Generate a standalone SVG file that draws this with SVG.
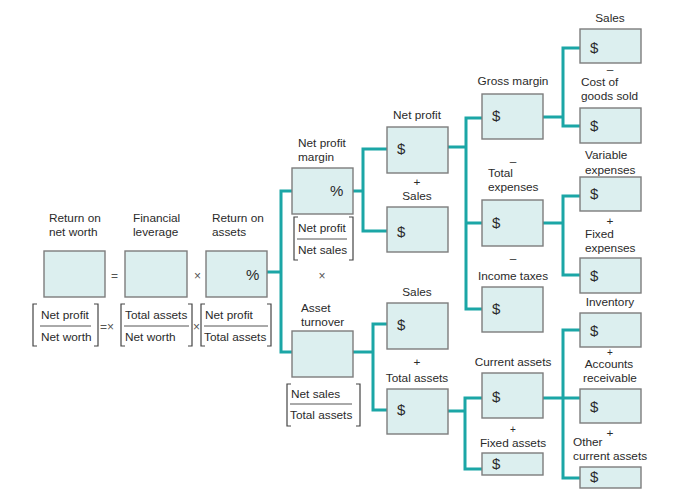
<svg xmlns="http://www.w3.org/2000/svg" width="700" height="495" viewBox="0 0 700 495">
<style>
text{font-family:"Liberation Sans",Arial,sans-serif;font-size:11.8px;fill:#2a2a2a}
.c{text-anchor:middle}
.big{font-size:15px}
.op{font-size:12px;fill:#555}
.pl{font-size:10px}
.box{fill:#dcefef;stroke:#7d7d7d;stroke-width:1.4}
.br{fill:none;stroke:#444;stroke-width:1.2}
.fl{stroke:#555;stroke-width:1}
.con{fill:none;stroke:#1ba6a6;stroke-width:3}
</style>
<rect width="700" height="495" fill="#fff"/>
<g id="connectors" class="con">
<path d="M267,272H281M292,191H281V352H292"/>
<path d="M353,191H363M387,149H363V231H387"/>
<path d="M353,352H373M387,324H373V410H387"/>
<path d="M448,147H466M482,118H466V309H482M466,223H482"/>
<path d="M448,411H465M482,398H465V469H482"/>
<path d="M543,117H563M580,48H563V126H580"/>
<path d="M543,223H563M580,196H563V275H580"/>
<path d="M543,398H580M580,330H563V478H580"/>
</g>
<g id="return-on-net-worth">
<text x="49" y="222">Return on</text><text x="49" y="236">net worth</text>
<rect class="box" x="44" y="251" width="61" height="46"/>
</g>
<text class="op" x="111" y="280">=</text>
<g id="financial-leverage">
<text x="133" y="222">Financial</text><text x="133" y="236">leverage</text>
<rect class="box" x="125" y="251" width="62" height="46"/>
</g>
<text class="op" x="194" y="280">×</text>
<g id="return-on-assets">
<text x="212" y="222">Return on</text><text x="212" y="236">assets</text>
<rect class="box" x="206" y="251" width="61" height="46"/>
<text class="big" x="246" y="280">%</text>
</g>
<g id="formula">
<path class="br" d="M37,304H33V346H37M94,304H98V346H94"/>
<text x="41" y="319">Net profit</text><line class="fl" x1="40" y1="326" x2="91" y2="326"/><text x="41" y="341">Net worth</text>
<text class="op" x="100" y="331">=×</text>
<path class="br" d="M125,304H121V346H125M188,304H192V346H188"/>
<text x="125" y="319">Total assets</text><line class="fl" x1="124" y1="326" x2="189" y2="326"/><text x="125" y="341">Net worth</text>
<text class="op" x="193" y="331">×</text>
<path class="br" d="M205,304H201V346H205M267,304H271V346H267"/>
<text x="205" y="319">Net profit</text><line class="fl" x1="204" y1="326" x2="268" y2="326"/><text x="204" y="341">Total assets</text>
</g>
<g id="net-profit-margin">
<text x="298" y="147">Net profit</text><text x="298" y="161">margin</text>
<rect class="box" x="292" y="168" width="61" height="46"/>
<text class="big" x="330" y="196">%</text>
<path class="br" d="M298,217H294V260H298M349,217H353V260H349"/>
<text x="298" y="232">Net profit</text><line class="fl" x1="297" y1="239" x2="347" y2="239"/><text x="298" y="254">Net sales</text>
</g>
<text class="op c" x="322" y="280">×</text>
<g id="asset-turnover">
<text x="301" y="312">Asset</text><text x="301" y="326">turnover</text>
<rect class="box" x="292" y="331" width="61" height="46"/>
<path class="br" d="M291,384H287V426H291M356,384H360V426H356"/>
<text x="291" y="398">Net sales</text><line class="fl" x1="290" y1="404" x2="352" y2="404"/><text x="290" y="419">Total assets</text>
</g>
<g id="net-profit">
<text class="c" x="417" y="119">Net profit</text>
<rect class="box" x="387" y="127" width="61" height="46"/>
<text class="big" x="397" y="154">$</text>
</g>
<g id="sales-1">
<text class="c" x="417" y="186">+</text><text class="c" x="417" y="200">Sales</text>
<rect class="box" x="387" y="207" width="61" height="45"/>
<text class="big" x="397" y="237">$</text>
</g>
<g id="sales-2">
<text class="c" x="417" y="296">Sales</text>
<rect class="box" x="387" y="303" width="61" height="46"/>
<text class="big" x="397" y="330">$</text>
</g>
<g id="total-assets">
<text class="c" x="417" y="366">+</text><text class="c" x="417" y="382">Total assets</text>
<rect class="box" x="387" y="389" width="61" height="45"/>
<text class="big" x="397" y="415">$</text>
</g>
<g id="gross-margin">
<text class="c" x="513" y="85">Gross margin</text>
<rect class="box" x="482" y="94" width="61" height="45"/>
<text class="big" x="492" y="121">$</text>
</g>
<g id="total-expenses">
<text class="c" x="513" y="165">–</text><text x="488" y="177">Total</text><text x="488" y="191">expenses</text>
<rect class="box" x="482" y="200" width="61" height="46"/>
<text class="big" x="492" y="228">$</text>
</g>
<g id="income-taxes">
<text class="c" x="513" y="262">–</text><text class="c" x="513" y="280">Income taxes</text>
<rect class="box" x="482" y="287" width="61" height="45"/>
<text class="big" x="492" y="314">$</text>
</g>
<g id="current-assets">
<text class="c" x="513" y="366">Current assets</text>
<rect class="box" x="482" y="373" width="61" height="45"/>
<text class="big" x="492" y="402">$</text>
</g>
<g id="fixed-assets">
<text class="c pl" x="513" y="433">+</text><text class="c" x="513" y="447">Fixed assets</text>
<rect class="box" x="482" y="453" width="61" height="22"/>
<text class="big" x="492" y="469">$</text>
</g>
<g id="sales-3">
<text class="c" x="610" y="22">Sales</text>
<rect class="box" x="580" y="29" width="61" height="34"/>
<text class="big" x="590" y="53">$</text>
</g>
<g id="cost-of-goods-sold">
<text class="c" x="610" y="73">–</text><text x="581" y="86">Cost of</text><text x="581" y="100">goods sold</text>
<rect class="box" x="580" y="108" width="61" height="35"/>
<text class="big" x="590" y="131">$</text>
</g>
<g id="variable-expenses">
<text x="585" y="159">Variable</text><text x="585" y="174">expenses</text>
<rect class="box" x="580" y="177" width="61" height="34"/>
<text class="big" x="590" y="199">$</text>
</g>
<g id="fixed-expenses">
<text class="c" x="610" y="225">+</text><text x="585" y="238">Fixed</text><text x="585" y="252">expenses</text>
<rect class="box" x="580" y="258" width="61" height="35"/>
<text class="big" x="590" y="281">$</text>
</g>
<g id="inventory">
<text class="c" x="610" y="306">Inventory</text>
<rect class="box" x="580" y="313" width="61" height="34"/>
<text class="big" x="590" y="336">$</text>
</g>
<g id="accounts-receivable">
<text class="c pl" x="610" y="356">+</text><text class="c" x="609" y="368">Accounts</text><text class="c" x="610" y="382">receivable</text>
<rect class="box" x="580" y="389" width="61" height="34"/>
<text class="big" x="590" y="412">$</text>
</g>
<g id="other-current-assets">
<text class="c" x="610" y="437">+</text><text x="573" y="446">Other</text><text x="573" y="460">current assets</text>
<rect class="box" x="580" y="467" width="61" height="21"/>
<text class="big" x="590" y="482">$</text>
</g>
</svg>
